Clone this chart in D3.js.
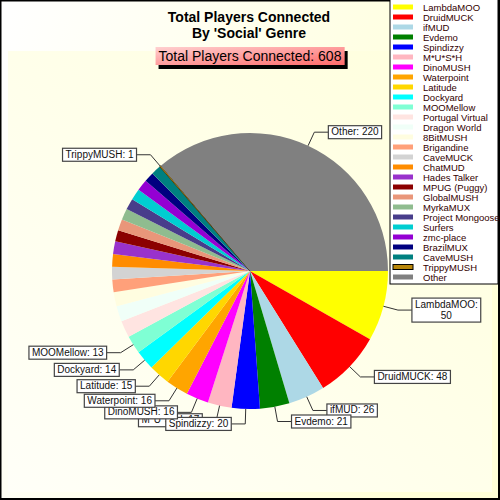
<!DOCTYPE html>
<html>
<head>
<meta charset="utf-8">
<script src="https://cdn.jsdelivr.net/npm/d3@7"></script>
<style>
  body { margin: 0; background: #fff; }
  svg { display: block; font-family: "Liberation Sans", Arial, sans-serif; }
</style>
</head>
<body>
<div id="chart"></div>
<script>
// slice data, in drawing order (clockwise from 3 o'clock)
const names = ["LambdaMOO", "DruidMUCK", "ifMUD", "Evdemo", "Spindizzy", "M*U*S*H", "DinoMUSH",
    "Waterpoint", "Latitude", "Dockyard", "MOOMellow", "Portugal Virtual", "Dragon World", "8BitMUSH",
    "Brigandine", "CaveMUCK", "ChatMUD", "Hades Talker", "MPUG (Puggy)", "GlobalMUSH", "MyrkaMUX",
    "Project Mongoose", "Surfers", "zmc-place", "BrazilMUX", "CaveMUSH", "TrippyMUSH", "Other"];
const values = [50, 48, 26, 21, 20, 17, 16, 16, 15, 14, 13, 12, 11, 10, 9, 9, 9, 9, 8, 8, 8, 8, 8, 8, 7, 7, 1, 220];
const colors = ["#ffff00", "#ff0000", "#add8e6", "#008000", "#0000ff", "#ffb6c1", "#ff00ff",
    "#ffa500", "#ffd700", "#00ffff", "#7fffd4", "#ffe4e1", "#f0fff8", "#fffde0",
    "#ffa07a", "#d3d3d3", "#ff8c00", "#9932cc", "#8b0000", "#e9967a", "#8fbc8f",
    "#483d8b", "#00ced1", "#9400d3", "#000080", "#008080", "#b8860b", "#808080"];
// slices that get a callout label
const labelled = ["LambdaMOO", "DruidMUCK", "ifMUD", "Evdemo", "Spindizzy", "M*U*S*H", "DinoMUSH",
    "Waterpoint", "Latitude", "Dockyard", "MOOMellow", "TrippyMUSH", "Other"];
// slice drawn with an outline (highlighted)
const outlined = ["TrippyMUSH"];
const titleLines = ["Total Players Connected", "By 'Social' Genre"];
const subtitle = "Total Players Connected: " + d3.sum(values);

const width = 500, height = 500;
const cx = 250, cy = 271, radius = 138;

const data = names.map((n, i) => ({ name: n, value: values[i], color: colors[i] }));

const svg = d3.select("#chart").append("svg")
    .attr("width", width)
    .attr("height", height);

const defs = svg.append("defs");

// backgrounds
const bgGrad = defs.append("linearGradient").attr("id", "bg")
    .attr("x1", "0%").attr("y1", "0%").attr("x2", "100%").attr("y2", "30%");
bgGrad.append("stop").attr("offset", "0%").attr("stop-color", "#ffffff");
bgGrad.append("stop").attr("offset", "100%").attr("stop-color", "#ffffd8");

const plotGrad = defs.append("linearGradient").attr("id", "plotbg")
    .attr("x1", "100%").attr("y1", "0%").attr("x2", "0%").attr("y2", "100%");
plotGrad.append("stop").attr("offset", "0%").attr("stop-color", "#ffffdc");
plotGrad.append("stop").attr("offset", "100%").attr("stop-color", "#fffff8");

const subGrad = defs.append("linearGradient").attr("id", "subbg")
    .attr("x1", "0%").attr("y1", "0%").attr("x2", "100%").attr("y2", "100%");
subGrad.append("stop").attr("offset", "0%").attr("stop-color", "#ffd0d0");
subGrad.append("stop").attr("offset", "100%").attr("stop-color", "#ff6a6a");

svg.append("rect")
    .attr("x", 0).attr("y", 0)
    .attr("width", width).attr("height", height)
    .attr("fill", "url(#bg)");

svg.append("rect")
    .attr("x", 8).attr("y", 51)
    .attr("width", 484).attr("height", 441)
    .attr("fill", "url(#plotbg)");

svg.append("rect")
    .attr("x", 0.5).attr("y", 0.5)
    .attr("width", width - 1.5).attr("height", height - 1.5)
    .attr("fill", "none")
    .attr("stroke", "#000")
    .attr("stroke-width", 2);

// title
svg.append("text")
    .attr("x", 249)
    .attr("y", 22)
    .attr("text-anchor", "middle")
    .style("font-size", "14px")
    .style("font-weight", "bold")
    .selectAll("tspan")
    .data(titleLines)
    .join("tspan")
    .attr("x", 249)
    .attr("dy", (d, i) => i === 0 ? 0 : 16)
    .text(d => d);

// subtitle box with drop shadow
const subG = svg.append("g");
const subShadow = subG.append("rect").attr("fill", "#000");
const subBox = subG.append("rect").attr("fill", "url(#subbg)");
const subText = subG.append("text")
    .attr("x", 250)
    .attr("y", 61)
    .attr("text-anchor", "middle")
    .attr("fill", "#000")
    .style("font-size", "14px")
    .text(subtitle);
const sb = subText.node().getBBox();
subShadow.attr("x", sb.x - 3 + 3).attr("y", sb.y - 1 + 4)
    .attr("width", sb.width + 6).attr("height", sb.height + 2);
subBox.attr("x", sb.x - 3).attr("y", sb.y - 1)
    .attr("width", sb.width + 6).attr("height", sb.height + 2);

// pie
const pie = d3.pie()
    .sort(null)
    .value(d => d.value)
    .startAngle(Math.PI / 2)
    .endAngle(Math.PI / 2 + 2 * Math.PI);

const arc = d3.arc().innerRadius(0).outerRadius(radius);
const arcs = pie(data);

const g = svg.append("g").attr("transform", `translate(${cx},${cy})`);

g.selectAll("path.slice")
    .data(arcs)
    .join("path")
    .attr("class", "slice")
    .attr("d", arc)
    .attr("fill", d => d.data.color)
    .attr("stroke", d => outlined.includes(d.data.name) ? "#3a2a00" : "none")
    .attr("stroke-width", 0.8);

// callout labels
const elbowR = radius + 15;
const runLen = 14;
const pt = (a, r) => [Math.sin(a) * r, -Math.cos(a) * r];

const labelArcs = arcs.filter(d => labelled.includes(d.data.name));
// M*U*S*H sits under its neighbours in the original
labelArcs.sort((a, b) => (a.data.name === "M*U*S*H" ? -1 : 0) - (b.data.name === "M*U*S*H" ? -1 : 0));

const labelG = g.append("g");
labelArcs.forEach(d => {
    const mid = (d.startAngle + d.endAngle) / 2;
    const [x0, y0] = pt(mid, radius);
    const [x1, y1] = pt(mid, elbowR);
    const right = x1 >= 0;
    const x2 = right ? x1 + runLen : x1 - runLen;

    labelG.append("polyline")
        .attr("points", [[x0, y0], [x1, y1], [x2, y1]].map(p => p.join(",")).join(" "))
        .attr("fill", "none")
        .attr("stroke", "#333")
        .attr("stroke-width", 1);

    const box = labelG.append("g");
    const rect = box.append("rect");
    const txt = box.append("text")
        .attr("fill", "#111")
        .style("font-size", "10px");
    let lines = [`${d.data.name}: ${d.data.value}`];
    txt.text(lines[0]);
    let w = txt.node().getComputedTextLength();
    // wrap if the box would run off the right of the plot
    if (right && cx + x2 + w + 6 > 480) {
        lines = [`${d.data.name}:`, `${d.data.value}`];
    }
    txt.text(null);
    const lineH = 11;
    txt.selectAll("tspan")
        .data(lines)
        .join("tspan")
        .attr("text-anchor", "middle")
        .attr("dy", (l, i) => i === 0 ? 0 : lineH)
        .text(l => l);
    w = d3.max(txt.selectAll("tspan").nodes(), n => n.getComputedTextLength());
    const bw = w + 6;
    const bh = lines.length * lineH + 2;
    const bx = right ? x2 : x2 - bw;
    const by = y1 - bh / 2;
    txt.selectAll("tspan").attr("x", bx + bw / 2);
    txt.attr("y", by + 9.5);
    rect.attr("x", bx).attr("y", by)
        .attr("width", bw).attr("height", bh)
        .attr("fill", "#fff")
        .attr("stroke", "#444")
        .attr("stroke-width", 1.2);
});

// legend
const legX = 390, legY = -1, legW = 108, rowH = 10;
const legend = svg.append("g");
legend.append("rect")
    .attr("x", legX).attr("y", legY)
    .attr("width", legW).attr("height", names.length * rowH + 5)
    .attr("fill", "#fff")
    .attr("stroke", "#000")
    .attr("stroke-width", 1);

const rows = legend.selectAll("g.row")
    .data(data)
    .join("g")
    .attr("class", "row")
    .attr("transform", (d, i) => `translate(${legX},${7 + i * rowH})`);

rows.append("rect")
    .attr("x", 3).attr("y", -2.5)
    .attr("width", 20).attr("height", 5)
    .attr("fill", d => d.color)
    .attr("stroke", d => outlined.includes(d.name) ? "#000" : "none")
    .attr("stroke-width", 1);

rows.append("text")
    .attr("x", 33)
    .attr("y", 3.5)
    .attr("fill", "#300")
    .style("font-size", "9.5px")
    .text(d => d.name);
</script>
</body>
</html>
